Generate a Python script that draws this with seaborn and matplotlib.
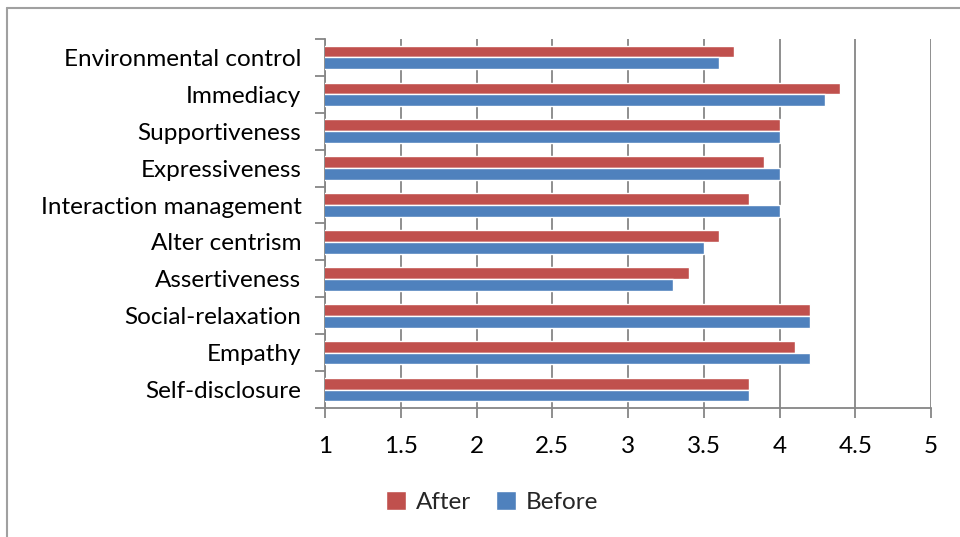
import matplotlib
matplotlib.use("Agg")
import matplotlib.pyplot as plt
from matplotlib.lines import Line2D
from matplotlib.ticker import FixedLocator
import seaborn as sns
import pandas as pd

categories = [
    "Environmental control", "Immediacy", "Supportiveness", "Expressiveness",
    "Interaction management", "Alter centrism", "Assertiveness",
    "Social-relaxation", "Empathy", "Self-disclosure",
]
after = [3.7, 4.4, 4.0, 3.9, 3.8, 3.6, 3.4, 4.2, 4.1, 3.8]
before = [3.6, 4.3, 4.0, 4.0, 4.0, 3.5, 3.3, 4.2, 4.2, 3.8]
x_ticks = [1, 1.5, 2, 2.5, 3, 3.5, 4, 4.5, 5]
x_tick_labels = ["1", "1.5", "2", "2.5", "3", "3.5", "4", "4.5", "5"]

df = pd.DataFrame({
    "Skill": categories * 2,
    "Score": after + before,
    "Phase": ["After"] * len(categories) + ["Before"] * len(categories),
})

sns.set_theme(style="white")
plt.rcParams["font.family"] = ["Lato", "DejaVu Sans"]

grid_col = "#868686"
fs = 17.5
fig = plt.figure(figsize=(9.6, 5.37), dpi=100)
ax = fig.add_axes([325 / 960, 1 - 408 / 537, (931 - 325) / 960, (408 - 39) / 537])

sns.barplot(
    data=df, y="Skill", x="Score", hue="Phase", order=categories,
    hue_order=["After", "Before"], palette={"After": "#C0504D", "Before": "#4F81BD"},
    orient="h", width=0.64, ax=ax, errorbar=None, saturation=1, legend=True,
    zorder=3,
)

ax.set_xlim(1, 5)
ax.set_ylim(len(categories) - 0.5, -0.5)
ax.set_xlabel("")
ax.set_ylabel("")

ax.set_xticks(x_ticks)
ax.set_xticklabels(x_tick_labels, fontsize=fs, color="black")
ax.tick_params(axis="x", length=7, width=1.3, color=grid_col, direction="out",
               pad=13, bottom=True)
ax.xaxis.grid(True, color=grid_col, linewidth=1.3, zorder=0)
ax.set_axisbelow(True)

ax.set_yticks(range(len(categories)))
ax.set_yticklabels(categories, fontsize=fs, color="black")
ax.tick_params(axis="y", length=0, pad=17, left=True)
ax.yaxis.set_minor_locator(FixedLocator([i - 0.5 for i in range(len(categories) + 1)]))
ax.tick_params(axis="y", which="minor", length=7, width=1.3, color=grid_col, left=True)

for side in ["top", "right"]:
    ax.spines[side].set_visible(False)
for side in ["left", "bottom"]:
    ax.spines[side].set_color(grid_col)
    ax.spines[side].set_linewidth(1.3)

leg = ax.legend(
    loc="center", bbox_to_anchor=(492 / 960, 1 - 502 / 537), bbox_transform=fig.transFigure,
    ncol=2, frameon=False, fontsize=fs, handlelength=0.85, handleheight=0.85,
    handletextpad=0.4, columnspacing=1.0,
)

# outer chart frame
fig.add_artist(Line2D([7 / 960, 7 / 960], [0, 1 - 8 / 537], transform=fig.transFigure,
                      color="#A0A0A0", linewidth=1.5))
fig.add_artist(Line2D([7 / 960, 1], [1 - 8 / 537, 1 - 8 / 537], transform=fig.transFigure,
                      color="#A0A0A0", linewidth=1.5))

fig.savefig("out.png", dpi=100)
